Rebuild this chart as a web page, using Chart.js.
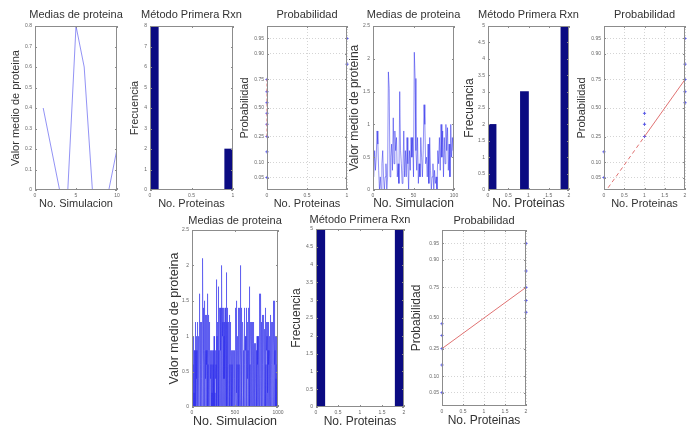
<!DOCTYPE html>
<html>
<head>
<meta charset="utf-8">
<script src="https://cdn.jsdelivr.net/npm/chart.js@4.4.1/dist/chart.umd.min.js"></script>
<style>
  html, body { margin: 0; padding: 0; background: #fff; }
  body { width: 691px; height: 426px; position: relative; overflow: hidden; }
  canvas { position: absolute; }
</style>
</head>
<body>
<script>
// ---- data: 10 simulations ----
const sim10Means = [0.4, 0.2, 0, 0, 0.8, 0.6, 0, 0, 0, 0.2];
const hist10Centers = [0.05, 0.15, 0.25, 0.35, 0.45, 0.55, 0.65, 0.75, 0.85, 0.95];
const hist10Counts = [8, 0, 0, 0, 0, 0, 0, 0, 0, 2];
const norm10Prot = [0, 0, 0, 0, 0, 0, 0, 0, 1, 1];
const ref10X = [0, 0];

// ---- data: 100 simulations ----
const sim100Means = [
  0.2, 0.6, 0.3, 0.5, 0.9, 0.7, 0.3, 0, 0.2, 0,
  0.4, 0.6, 0.2, 0, 0.2, 0.4, 0, 0.2, 1.8, 1.55,
  0.2, 0.5, 0.7, 0.3, 1.1, 0.4, 0.9, 0.6, 0.8, 0.2,
  0.4, 0.1, 1.5, 0.6, 0.4, 0.1, 0.3, 0.9, 0.2, 0.6,
  0.2, 0.8, 0.4, 0, 0.6, 0.3, 0.8, 0.5, 0.8, 0.2,
  2.1, 1.7, 0.6, 0.3, 0.8, 0.1, 0.4, 0.2, 0.8, 0.5,
  0.2, 0.6, 1.3, 1.0, 0.4, 0.5, 0.2, 0.7, 0.1, 0.8,
  0.3, 0, 0.2, 0.4, 0, 0.3, 0.1, 0.2, 0, 0.6,
  0.4, 0.8, 0.3, 1.0, 0.5, 0.9, 0.2, 0.8, 0.4, 1.0,
  0.6, 0.95, 0.3, 0.7, 0.2, 1.0, 0.5, 0.8, 0.6, 1.25
];
const hist100Centers = [0.1, 0.3, 0.5, 0.7, 0.9, 1.1, 1.3, 1.5, 1.7, 1.9];
const hist100Counts = [2, 0, 0, 0, 3, 0, 0, 0, 0, 5];
const norm100Prot = [0, 0, 1, 1, 1, 2, 2, 2, 2, 2];
const ref100X = [1, 2];

// ---- data: 1000 simulations (tenths, base 36: a=1.0 ... l=2.1) ----
const sim1000Tenths = `
48026 40c80 26048 20406 8a024  06284 02608 c4020 68042 08602
40862 0a480 26c04 08240 62084  2068a 40826 0g482 06a48 02c68
8a460 c2084 6a08c 40e82 a6084  cl8a6 08e4c 2a086 f4082 6a0c4
806d4 08260 a4802 64d08 24068  20g46 08a24 06284 0d602 48026
40826 0c480 26048 20804 60824  06240 80260 42068 04206 80402
60420 a0640 20860 40240 62084  02046 40862 08i20 a6048 02c60
8c4a6 0h82e 4c08a 6e40c 8a06e  a40c8 e60ac 48e06 ca48e 0ck8a
e6ca8 40e6a c08e4 a6c08 e4a60  c48a6 0c4e8 6a04c 8e60a 4cj80
ag6a4 0c86a 4e06c 8a40c 6084a  08c46 02a84 0684d 06280 4c608
20840 62084 02480 60248 02068  40240 20426 04802 40284 02040
60c42 06804 e2068 0406f 80264  08240 a6082 40c68 04e28 06a40
82c06 48e20 6k840 2e086 40c82  06e48 20a68 04282 06c84 02068
48020 6a408 2e048 60824 0a286  08a46 08e24 08a60 a8408 c6a80
48a06 0c820 8e406 h0820 48a06  0c842 08604 a8208 46c02 8a408
a4c08 62094 08260 c4806 20984  06240 82060 48209 06240 80620
40620 a4080 62048 06a20 60428  06284 0d608 2a48g 04c68 0a248
6g48a 08c46 0ab08 4a6d0 8a4b6  0ab48 a6d0a 8b4a6 0ba84 a6b08
a6408 c4e80 6a408 2c680 48a06  20c84 06280 4a608 24c06 80428
06a40 82608 4d028 a6408 2c604  80a46 02840 6a208 c4068 20f48
06a84 02f68 0a406 82048 06a28  04682 06a40 82068 04a60 28064`;
const sim1000Means = sim1000Tenths.replace(/\s+/g, '').split('').map(ch => parseInt(ch, 36) / 10);
const hist1000Counts = [5, 0, 0, 0, 0, 0, 0, 0, 0, 5];
const norm1000Prot = [0, 0, 0, 0, 0, 2, 2, 2, 2, 2];
const ref1000X = [0, 2];

// normal probability plot positions and quartile reference points
const plotPos = [0.05, 0.15, 0.25, 0.35, 0.45, 0.55, 0.65, 0.75, 0.85, 0.95];
const refP = [0.25, 0.75];
const probTicks = [0.05, 0.10, 0.25, 0.50, 0.75, 0.90, 0.95];
const probLabels = ['0.05', '0.10', '0.25', '0.50', '0.75', '0.90', '0.95'];

const FONT = '"Liberation Sans", Arial, sans-serif';
const LINE = 'rgba(40,40,235,0.5)';
const BAR = '#0b0b82';
const RED = '#e07272';
const PTS = 'rgb(90,90,230)';
const Z_LIM = 1.94;

Chart.defaults.font.family = FONT;
Chart.defaults.animation = false;
Chart.defaults.plugins.legend.display = false;
Chart.defaults.plugins.tooltip.enabled = false;

// inverse normal cdf (Acklam)
function norminv(p) {
  const a = [-39.6968302866538, 220.946098424521, -275.928510446969, 138.357751867269, -30.6647980661472, 2.50662827745924];
  const b = [-54.4760987982241, 161.585836858041, -155.698979859887, 66.8013118877197, -13.2806815528857];
  const c = [-0.00778489400243029, -0.322396458041136, -2.40075827716184, -2.54973253934373, 4.37466414146497, 2.93816398269878];
  const d = [0.00778469570904146, 0.32246712907004, 2.445134137143, 3.75440866190742];
  if (p < 0.02425) {
    const q = Math.sqrt(-2 * Math.log(p));
    return (((((c[0]*q+c[1])*q+c[2])*q+c[3])*q+c[4])*q+c[5]) / ((((d[0]*q+d[1])*q+d[2])*q+d[3])*q+1);
  }
  if (p > 1 - 0.02425) return -norminv(1 - p);
  const q = p - 0.5, r = q * q;
  return (((((a[0]*r+a[1])*r+a[2])*r+a[3])*r+a[4])*r+a[5])*q / (((((b[0]*r+b[1])*r+b[2])*r+b[3])*r+b[4])*r+1);
}

// axes box, inward ticks, title and labels
const frame = {
  id: 'frame',
  afterDraw(chart, args, o) {
    const {ctx, chartArea: a, scales} = chart;
    ctx.save();
    ctx.strokeStyle = '#8c8c8c';
    ctx.lineWidth = 1;
    ctx.strokeRect(Math.round(a.left) + 0.5, Math.round(a.top) + 0.5, Math.round(a.right - a.left) - 1, Math.round(a.bottom - a.top) - 1);
    ctx.beginPath();
    scales.x.ticks.forEach(t => {
      const px = Math.round(scales.x.getPixelForValue(t.value)) + 0.5;
      ctx.moveTo(px, a.bottom); ctx.lineTo(px, a.bottom - 2);
      ctx.moveTo(px, a.top); ctx.lineTo(px, a.top + 2);
    });
    scales.y.ticks.forEach(t => {
      const py = Math.round(scales.y.getPixelForValue(t.value)) + 0.5;
      ctx.moveTo(a.left, py); ctx.lineTo(a.left + 2, py);
      ctx.moveTo(a.right, py); ctx.lineTo(a.right - 2, py);
    });
    ctx.stroke();

    const cx = (a.left + a.right) / 2, cy = (a.top + a.bottom) / 2;
    ctx.fillStyle = '#333';
    ctx.textAlign = 'center';
    ctx.textBaseline = 'middle';
    ctx.font = '11px ' + FONT;
    ctx.fillText(o.title, cx, a.top - o.tOff);
    ctx.font = o.fs + 'px ' + FONT;
    ctx.fillText(o.xlab, cx, a.bottom + o.xOff);
    ctx.translate(a.left - o.yOff, cy);
    ctx.rotate(-Math.PI / 2);
    ctx.fillText(o.ylab, 0, 0);
    ctx.restore();
  }
};

// matlab style numbers: 0, 0.5, 1, 1000
const fmt = v => String(Math.round(v * 100) / 100);

function tickFont() {
  return {color: '#666', font: {size: 5}, padding: 3, autoSkip: false, maxRotation: 0, callback: fmt};
}

function xScale(min, max, step, grid) {
  return {
    type: 'linear', min, max, offset: false,
    grid: {display: grid, color: '#d4d4d4', drawTicks: false},
    border: {display: false, dash: [1, 2]},
    ticks: Object.assign(tickFont(), {stepSize: step}),
    afterFit(s) { s.height = 8; s.paddingLeft = 0; s.paddingRight = 0; }
  };
}

function yScale(min, max, step) {
  return {
    type: 'linear', min, max,
    grid: {display: false, drawTicks: false},
    border: {display: false},
    ticks: Object.assign(tickFont(), {stepSize: step}),
    afterFit(s) { s.width = 14; s.paddingTop = 0; s.paddingBottom = 0; }
  };
}

function probScale() {
  return {
    type: 'linear', min: -Z_LIM, max: Z_LIM,
    grid: {display: true, color: '#d4d4d4', drawTicks: false},
    border: {display: false, dash: [1, 2]},
    ticks: Object.assign(tickFont(), {callback: (v, i) => probLabels[i]}),
    afterBuildTicks(s) { s.ticks = probTicks.map(p => ({value: norminv(p)})); },
    afterFit(s) { s.width = 14; s.paddingTop = 0; s.paddingBottom = 0; }
  };
}

function lineChart(values, xMax, xStep, yMax, yStep) {
  return {
    type: 'line',
    data: {datasets: [{
      data: values.map((v, i) => ({x: i + 1, y: v})),
      borderColor: LINE, borderWidth: 1, pointRadius: 0, tension: 0
    }]},
    scales: {x: xScale(0, xMax, xStep, false), y: yScale(0, yMax, yStep)}
  };
}

function histChart(centers, counts, xMax, yMax, yStep) {
  return {
    type: 'bar',
    data: {datasets: [{
      data: centers.map((c, i) => ({x: c, y: counts[i]})),
      backgroundColor: BAR, borderWidth: 0,
      barPercentage: 1, categoryPercentage: 1
    }]},
    scales: {x: xScale(0, xMax, 0.5, false), y: yScale(0, yMax, yStep)}
  };
}

function normChart(prots, refX, xMax) {
  const z0 = norminv(refP[0]), z1 = norminv(refP[1]);
  const sets = [];
  if (refX[0] === refX[1]) {
    sets.push({data: [{x: refX[0], y: z0}, {x: refX[1], y: z1}], borderDash: [3, 2], clip: 3});
  } else {
    const slope = (z1 - z0) / (refX[1] - refX[0]);
    sets.push({data: [{x: refX[0], y: z0}, {x: refX[1], y: z1}]});
    if (refX[0] > 0) {
      sets.push({data: [{x: 0, y: z0 - slope * refX[0]}, {x: refX[0], y: z0}], borderDash: [4, 3]});
    }
  }
  sets.forEach(s => Object.assign(s, {type: 'line', showLine: true, borderColor: RED, borderWidth: 1, pointRadius: 0}));
  sets.push({
    type: 'scatter',
    data: prots.map((x, i) => ({x, y: norminv(plotPos[i])})),
    pointStyle: 'cross', pointRadius: 1.6, borderColor: PTS, borderWidth: 1, clip: 4
  });
  return {
    type: 'scatter',
    data: {datasets: sets},
    scales: {x: xScale(0, xMax, 0.5, true), y: probScale()}
  };
}

const panels = [
  {box: [35, 26, 117, 190], spec: lineChart(sim10Means, 10, 5, 0.8, 0.1),
   title: 'Medias de proteina', xlab: 'No. Simulacion', ylab: 'Valor medio de proteina', yOff: 19, fs: 11},
  {box: [150, 26, 233, 190], spec: histChart(hist10Centers, hist10Counts, 1, 8, 1),
   title: 'Método Primera Rxn', xlab: 'No. Proteinas', ylab: 'Frecuencia', yOff: 15, fs: 11},
  {box: [267, 26, 347, 190], spec: normChart(norm10Prot, ref10X, 1),
   title: 'Probabilidad', xlab: 'No. Proteinas', ylab: 'Probabilidad', yOff: 22, fs: 11},
  {box: [373, 26, 454, 190], spec: lineChart(sim100Means, 100, 50, 2.5, 0.5),
   title: 'Medias de proteina', xlab: 'No. Simulacion', ylab: 'Valor medio de proteina', yOff: 18, fs: 12},
  {box: [488, 26, 569, 190], spec: histChart(hist100Centers, hist100Counts, 2, 5, 0.5),
   title: 'Método Primera Rxn', xlab: 'No. Proteinas', ylab: 'Frecuencia', yOff: 18, fs: 12},
  {box: [604, 26, 685, 190], spec: normChart(norm100Prot, ref100X, 2),
   title: 'Probabilidad', xlab: 'No. Proteinas', ylab: 'Probabilidad', yOff: 22, fs: 11},
  {box: [192, 230, 278, 407], spec: lineChart(sim1000Means, 1000, 500, 2.5, 0.5),
   title: 'Medias de proteina', xlab: 'No. Simulacion', ylab: 'Valor medio de proteina', yOff: 17, fs: 12.5, bottom: true},
  {box: [316, 229, 404, 407], spec: histChart(hist100Centers, hist1000Counts, 2, 5, 0.5),
   title: 'Método Primera Rxn', xlab: 'No. Proteinas', ylab: 'Frecuencia', yOff: 19, fs: 12, bottom: true},
  {box: [442, 230, 526, 406], spec: normChart(norm1000Prot, ref1000X, 2),
   title: 'Probabilidad', xlab: 'No. Proteinas', ylab: 'Probabilidad', yOff: 25, fs: 12, bottom: true}
];

panels.forEach(p => {
  const [l, t, r, b] = p.box;
  const padL = 32, padT = 24, padR = 16, padB = 24;
  const canvas = document.createElement('canvas');
  canvas.width = r - l + padL + padR;
  canvas.height = b - t + padT + padB;
  canvas.style.left = (l - padL) + 'px';
  canvas.style.top = (t - padT) + 'px';
  document.body.appendChild(canvas);
  new Chart(canvas, {
    type: p.spec.type,
    data: p.spec.data,
    plugins: [frame],
    options: {
      responsive: false,
      devicePixelRatio: 1,
      layout: {padding: {left: padL - 14, top: padT, right: padR, bottom: padB - 8}},
      scales: p.spec.scales,
      plugins: {
        frame: {title: p.title, xlab: p.xlab, ylab: p.ylab, yOff: p.yOff, fs: p.fs,
                tOff: p.bottom ? 9 : 11, xOff: p.bottom ? 15 : 14}
      }
    }
  });
});
</script>
</body>
</html>
